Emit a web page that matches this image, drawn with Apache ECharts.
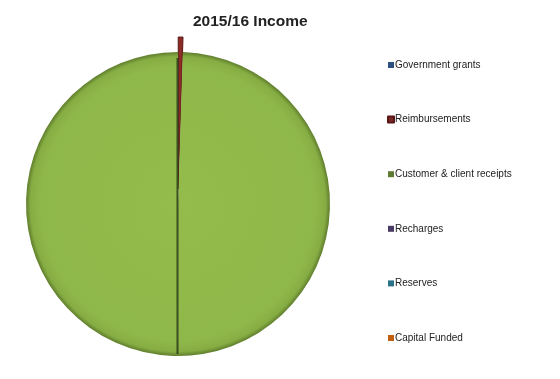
<!DOCTYPE html>
<html>
<head>
<meta charset="utf-8">
<script src="https://cdn.jsdelivr.net/npm/echarts@6/dist/echarts.min.js"></script>
<style>
  html, body { margin: 0; padding: 0; background: #fff; }
  #chart { width: 560px; height: 379px; }
</style>
</head>
<body>
<div id="chart"></div>
<script>
// Income sources for the year (share of total, %)
const categories = [
  'Government grants',
  'Reimbursements',
  'Customer & client receipts',
  'Recharges',
  'Reserves',
  'Capital Funded'
];
const values = [0, 0.5, 99.5, 0, 0, 0];
const legendColors = ['#2d5180', '#7a2a28', '#5e7a31', '#4a3a66', '#2a7288', '#c0600e'];
const sliceColors = ['#4f81bd', '#8c2a26', '#93bb4c', '#8064a2', '#4bacc6', '#f79646'];

const chart = echarts.init(document.getElementById('chart'));

const cx = 178, cy = 204, r = 152;

chart.setOption({
  backgroundColor: '#ffffff',
  animation: false,
  title: {
    text: '2015/16 Income',
    left: 188,
    top: 9,
    textStyle: { fontFamily: 'Liberation Sans, Arial', fontSize: 15.5, fontWeight: 'bold', color: '#222' }
  },
  legend: {
    orient: 'vertical',
    left: 382,
    top: 55,
    itemWidth: 6,
    itemHeight: 6,
    itemGap: 44.6,
    icon: 'rect',
    selectedMode: false,
    textStyle: { fontFamily: 'Liberation Sans, Arial', fontSize: 10, color: '#222', padding: [0, 0, 0, -4], lineHeight: 10 },
    data: categories.map((name, i) => ({ name, itemStyle: { color: legendColors[i] } }))
  },
  series: [{
    type: 'pie',
    center: [cx, cy],
    radius: r,
    startAngle: 90,
    clockwise: true,
    selectedMode: 'multiple',
    selectedOffset: 15,
    minAngle: 0,
    avoidLabelOverlap: false,
    label: { show: false },
    labelLine: { show: false },
    emphasis: { disabled: true },
    data: categories.map((name, i) => ({
      name,
      value: values[i],
      selected: name === 'Reimbursements',
      itemStyle: {
        color: i === 2 ? {
          type: 'radial', x: 0.5, y: 0.5, r: 0.5,
          colorStops: [
            { offset: 0, color: '#93bc4c' },
            { offset: 0.9, color: '#8fb84a' },
            { offset: 0.97, color: '#86ad43' },
            { offset: 1, color: '#5f7d2c' }
          ]
        } : sliceColors[i],
        borderColor: i === 1 ? '#5a1614' : 'transparent',
        borderWidth: i === 1 ? 1 : 0
      }
    }))
  }],
  graphic: [{
    // shaded seam of the raised slice running down the pie
    type: 'rect',
    silent: true,
    shape: { x: cx - 2, y: cy - r + 6, width: 3, height: 2 * r - 8 },
    style: {
      fill: {
        type: 'linear', x: 0, y: 0, x2: 1, y2: 0,
        colorStops: [
          { offset: 0, color: 'rgba(40,60,20,0.25)' },
          { offset: 0.5, color: 'rgba(30,45,15,0.75)' },
          { offset: 1, color: 'rgba(40,60,20,0.25)' }
        ]
      }
    },
    z: 10
  }]
});
</script>
</body>
</html>
